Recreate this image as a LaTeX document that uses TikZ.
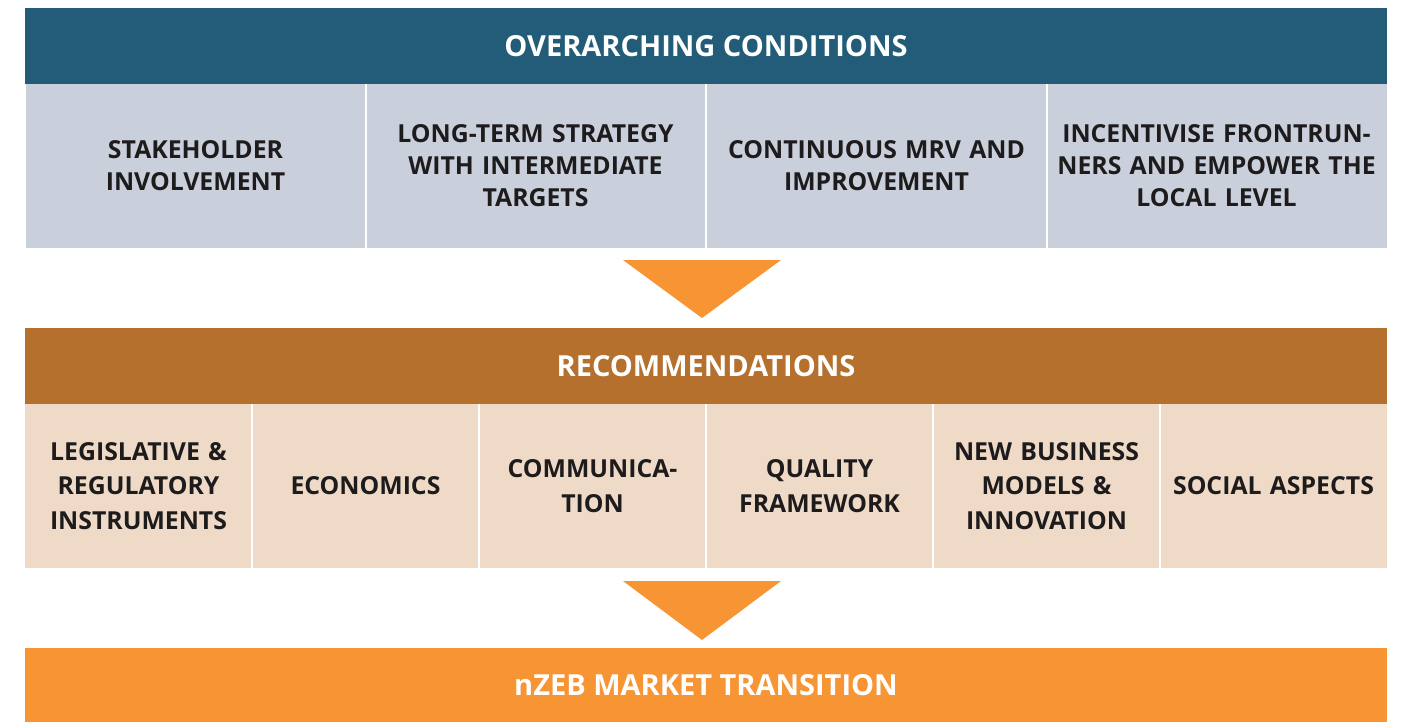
\documentclass[tikz,border=0pt]{standalone}
\usepackage{fontspec}
\setmainfont{Open Sans}
\definecolor{teal}{HTML}{235C78}
\definecolor{greycell}{HTML}{C9CFDB}
\definecolor{orangeA}{HTML}{F79433}
\definecolor{brownA}{HTML}{B5702E}
\definecolor{beige}{HTML}{EEDAC7}
\definecolor{txt}{HTML}{1E1B1C}
\tikzset{
  banner/.style={fill=#1, text=white, inner sep=0pt, minimum width=1362pt, minimum height=76pt,
    font=\fontsize{29}{34}\selectfont\bfseries},
  cellbox/.style={fill=#1, text=txt, inner sep=0pt, minimum height=164pt, align=center,
    font=\fontsize{24.8}{32}\selectfont\bfseries},
  lowcell/.style={cellbox=#1, font=\fontsize{24.8}{34.5}\selectfont\bfseries},
  sep/.style={draw=white, line width=2pt},
  arrowtri/.style={fill=orangeA}
}
\begin{document}
\begin{tikzpicture}[x=1pt,y=-1pt]
\useasboundingbox[fill=white] (0,0) rectangle (1404,722);
% top banner
\node[banner=teal] (oc) at (706,46) {OVERARCHING CONDITIONS};
\node[cellbox=greycell, minimum width=340pt, text width=330pt] (g1) at (195.5,166) {STAKEHOLDER\\INVOLVEMENT};
\node[cellbox=greycell, minimum width=340pt, text width=330pt] (g2) at (535.5,166) {LONG-TERM STRATEGY\\WITH INTERMEDIATE\\TARGETS};
\node[cellbox=greycell, minimum width=340pt, text width=330pt] (g3) at (876.5,166) {CONTINUOUS MRV AND\\IMPROVEMENT};
\node[cellbox=greycell, minimum width=340pt, text width=330pt] (g4) at (1216.5,166) {INCENTIVISE FRONTRUN-\\NERS AND EMPOWER THE\\LOCAL LEVEL};
\draw[sep] (g1.north east) -- (g1.south east);
\draw[sep] (g2.north east) -- (g2.south east);
\draw[sep] (g3.north east) -- (g3.south east);
% triangle 1
\coordinate (t1a) at (623,260);
\coordinate (t1b) at (781,260);
\coordinate (t1c) at (702,318);
\fill[arrowtri] (t1a) -- (t1b) -- (t1c) -- cycle;
% recommendations
\node[banner=brownA] (rec) at (706,366) {RECOMMENDATIONS};
\node[lowcell=beige, minimum width=227pt, text width=222pt] (b1) at (138.5,486) {LEGISLATIVE \&\\REGULATORY\\INSTRUMENTS};
\node[lowcell=beige, minimum width=227pt, text width=222pt] (b2) at (365.5,486) {ECONOMICS};
\node[lowcell=beige, minimum width=227pt, text width=222pt] (b3) at (592.5,486) {COMMUNICA-\\TION};
\node[lowcell=beige, minimum width=227pt, text width=222pt] (b4) at (819.5,486) {QUALITY\\FRAMEWORK};
\node[lowcell=beige, minimum width=227pt, text width=222pt] (b5) at (1046.5,486) {NEW BUSINESS\\MODELS \&\\INNOVATION};
\node[lowcell=beige, minimum width=227pt, text width=222pt] (b6) at (1273.5,486) {SOCIAL ASPECTS};
\draw[sep] (b1.north east) -- (b1.south east);
\draw[sep] (b2.north east) -- (b2.south east);
\draw[sep] (b3.north east) -- (b3.south east);
\draw[sep] (b4.north east) -- (b4.south east);
\draw[sep] (b5.north east) -- (b5.south east);
% triangle 2
\coordinate (t2a) at (623,581);
\coordinate (t2b) at (781,581);
\coordinate (t2c) at (702,640);
\fill[arrowtri] (t2a) -- (t2b) -- (t2c) -- cycle;
% bottom
\node[banner=orangeA, minimum height=74pt] (nz) at (706,685) {nZEB MARKET TRANSITION};
\end{tikzpicture}
\end{document}
